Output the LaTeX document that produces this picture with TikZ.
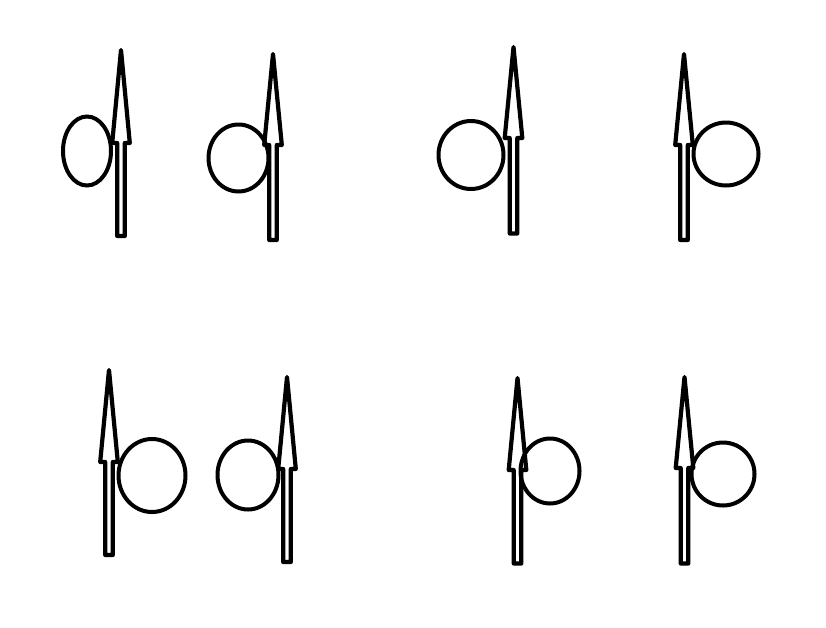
\documentclass[tikz,border=0pt]{standalone}
\begin{document}
\begin{tikzpicture}[x=1pt,y=-1pt,
  spin/.style={line width=4.2pt,line join=round,draw=black},
  loop/.style={line width=4pt,draw=black},
  pics/spinarrow/.style args={#1/#2/#3}{code={
    % #1 tip y, #2 head base y, #3 bottom y
    \draw[spin] (-3.8,#3) -- (-3.8,#2) -- (-8.8,#2) -- (0,#1) -- (8.8,#2) -- (3.8,#2) -- (3.8,#3) -- cycle;
  }}]
\useasboundingbox (0,0) rectangle (826,627);
% loops
\draw[loop] (87,151) ellipse [x radius=24, y radius=34.5];
\draw[loop] (238.5,158) ellipse [x radius=30, y radius=33.5];
\draw[loop] (471,155) ellipse [x radius=32.5, y radius=34];
\draw[loop] (726,154) ellipse [x radius=32.5, y radius=31.5];
\draw[loop] (152,475.5) ellipse [x radius=33.5, y radius=36.5];
\draw[loop] (248,475) ellipse [x radius=30.5, y radius=34.5];
\draw[loop] (550,471) ellipse [x radius=29.5, y radius=32.5];
\draw[loop] (723,474) ellipse [x radius=31.5, y radius=31.5];
% arrows
\pic at (121,0) {spinarrow={50}/{143}/{236}};
\pic at (273,0) {spinarrow={54}/{145}/{240}};
\pic at (513.5,0) {spinarrow={47}/{138}/{233.5}};
\pic at (684,0) {spinarrow={54}/{145}/{240}};
\pic at (109,0) {spinarrow={370}/{462}/{555}};
\pic at (287,0) {spinarrow={377}/{469}/{562}};
\pic at (517.5,0) {spinarrow={378}/{470}/{563.5}};
\pic at (684.5,0) {spinarrow={377}/{468}/{563.5}};
\end{tikzpicture}
\end{document}
